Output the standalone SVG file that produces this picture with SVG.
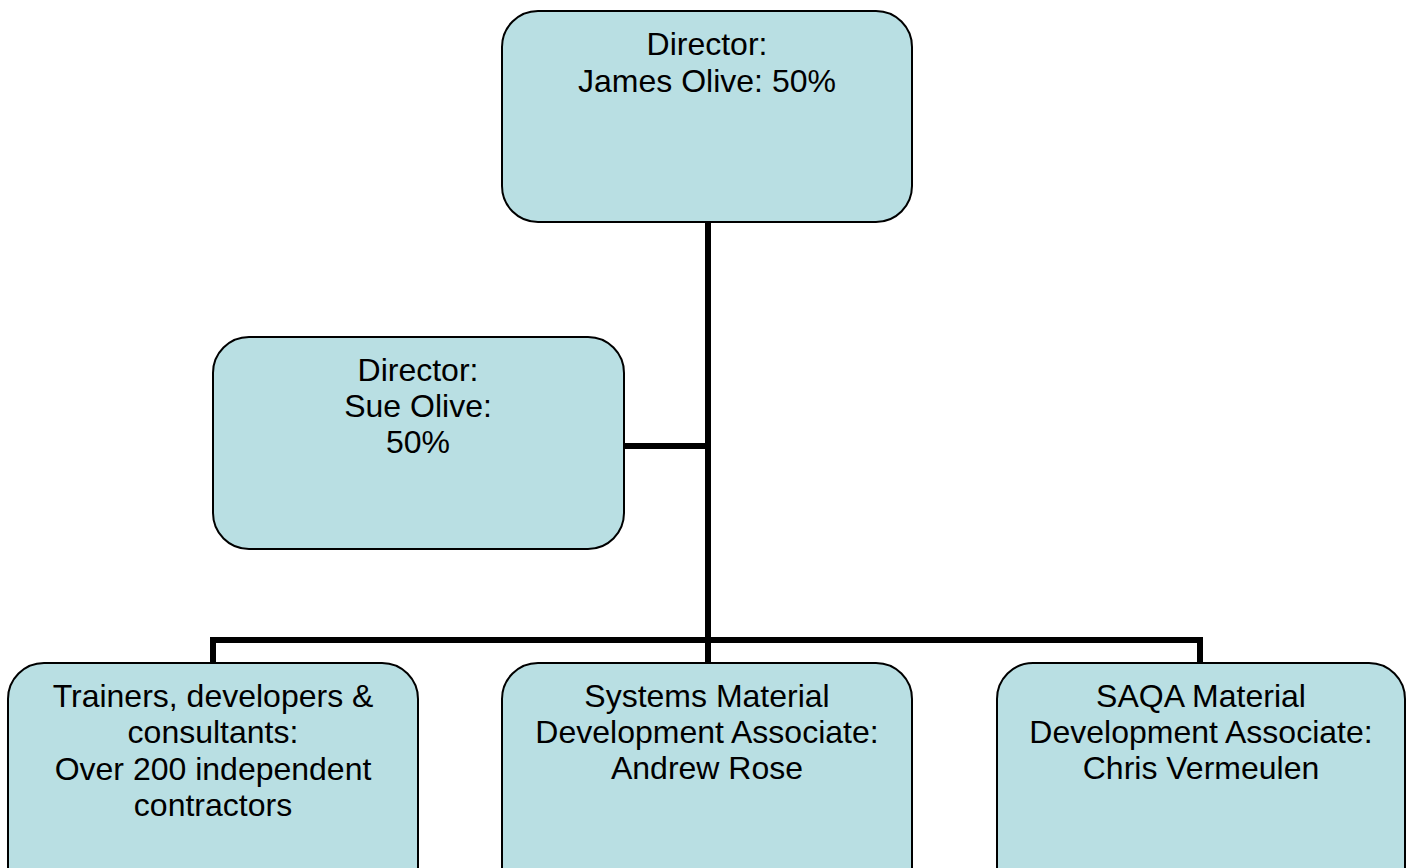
<svg xmlns="http://www.w3.org/2000/svg" width="1410" height="868" viewBox="0 0 1410 868">
<style>
.box{fill:#B9DFE3;stroke:#000;stroke-width:2}
.t{font-family:"Liberation Sans",Arial,sans-serif;font-size:32px;fill:#000;text-anchor:middle}
.c{fill:none;stroke:#000;stroke-width:6}
</style>
<rect width="1410" height="868" fill="#fff"/>
<g id="connectors">
<line class="c" x1="708" y1="222" x2="708" y2="640"/>
<line class="c" x1="624" y1="446" x2="708" y2="446"/>
<polyline class="c" points="213,663 213,640 1200,640 1200,663"/>
<line class="c" x1="708" y1="640" x2="708" y2="663"/>
</g>
<g id="james">
<rect class="box" x="502" y="11" width="410" height="211" rx="36"/>
<text class="t" x="707" y="55">Director:</text>
<text class="t" x="707" y="92">James Olive: 50%</text>
</g>
<g id="sue">
<rect class="box" x="213" y="337" width="411" height="212" rx="36"/>
<text class="t" x="418" y="381">Director:</text>
<text class="t" x="418" y="417">Sue Olive:</text>
<text class="t" x="418" y="453">50%</text>
</g>
<g id="trainers">
<rect class="box" x="8" y="663" width="410" height="240" rx="36"/>
<text class="t" x="213" y="707">Trainers, developers &amp;</text>
<text class="t" x="213" y="743">consultants:</text>
<text class="t" x="213" y="780">Over 200 independent</text>
<text class="t" x="213" y="816">contractors</text>
</g>
<g id="systems">
<rect class="box" x="502" y="663" width="410" height="240" rx="36"/>
<text class="t" x="707" y="707">Systems Material</text>
<text class="t" x="707" y="743">Development Associate:</text>
<text class="t" x="707" y="779">Andrew Rose</text>
</g>
<g id="saqa">
<rect class="box" x="997" y="663" width="408" height="240" rx="36"/>
<text class="t" x="1201" y="707">SAQA Material</text>
<text class="t" x="1201" y="743">Development Associate:</text>
<text class="t" x="1201" y="779">Chris Vermeulen</text>
</g>
</svg>
